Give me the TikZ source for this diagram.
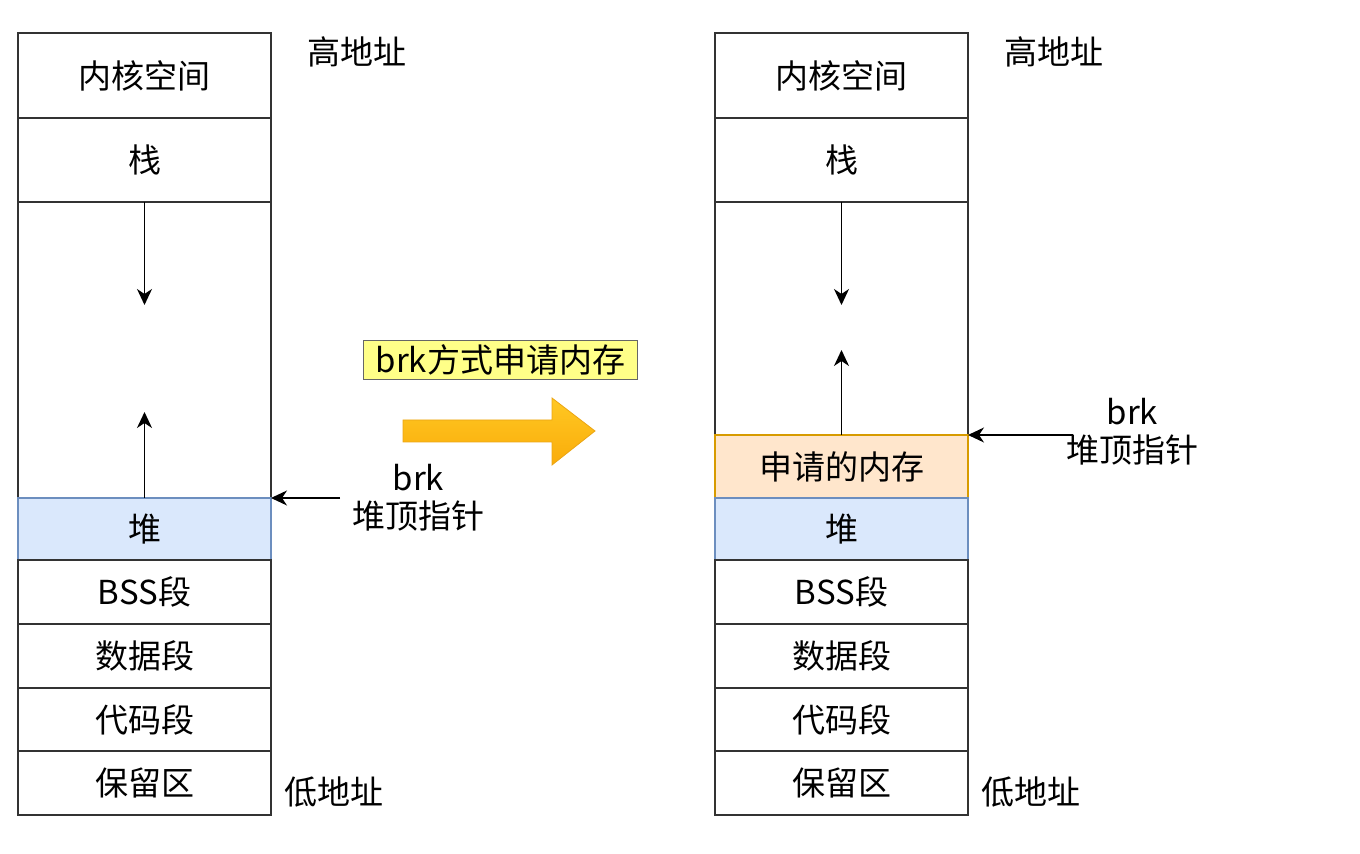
\documentclass[tikz,border=0pt]{standalone}
\usepackage{fontspec}
\setmainfont{Noto Sans CJK SC}
\usetikzlibrary{arrows.meta,positioning}

\definecolor{heapfill}{HTML}{DAE8FC}
\definecolor{heapline}{HTML}{6C8EBF}
\definecolor{allocfill}{HTML}{FFE6CC}
\definecolor{allocline}{HTML}{D79B00}
\definecolor{tagfill}{HTML}{FFFF88}
\definecolor{bigtop}{RGB}{255,200,35}
\definecolor{bigbottom}{RGB}{250,172,10}
\definecolor{bigline}{RGB}{235,165,20}

\begin{document}
\begin{tikzpicture}[x=1pt,y=1pt]
    \tikzset{
        seg/.style      =   { rectangle
                            , draw=black!80
                            , line width=0.75pt
                            , minimum width=126.5pt
                            , inner sep=0pt
                            , outer sep=0pt
                            , text centered
                            , font=\fontsize{16.5pt}{19pt}\selectfont
                            }
        , heap/.style   =   { seg
                            , fill=heapfill
                            , draw=heapline
                            }
        , alloc/.style  =   { seg
                            , fill=allocfill
                            , draw=allocline
                            }
        , note/.style   =   { inner sep=0pt
                            , font=\fontsize{16.5pt}{19pt}\selectfont
                            }
        , tag/.style    =   { rectangle
                            , fill=tagfill
                            , draw=black!60
                            , line width=0.6pt
                            , inner xsep=6pt
                            , inner ysep=2pt
                            , font=\fontsize{16.5pt}{19pt}\selectfont
                            }
        , arrow/.style  =   { line width=0.7pt
                            , -{Stealth[length=8pt,width=7.5pt,inset=2.5pt]}
                            }
        , bigarrow/.style = { top color=bigtop
                            , bottom color=bigbottom
                            , draw=bigline
                            , line width=0.4pt
                            }
    }
    \useasboundingbox (0,0) rectangle (680,-427);

    % before
    \node(kernelL)[seg,minimum height=42.5pt,anchor=north west] at (9,-16.5) {内核空间};
    \node(stackL)[seg,minimum height=42pt,below=0pt of kernelL] {栈};
    \node(gapL)[seg,minimum height=148pt,below=0pt of stackL] {};
    \node(heapL)[heap,minimum height=31pt,below=0pt of gapL] {堆};
    \node(bssL)[seg,minimum height=32pt,below=0pt of heapL] {BSS段};
    \node(dataL)[seg,minimum height=32pt,below=0pt of bssL] {数据段};
    \node(codeL)[seg,minimum height=31.5pt,below=0pt of dataL] {代码段};
    \node(resL)[seg,minimum height=32pt,below=0pt of codeL] {保留区};

    \node(highL)[note,anchor=west] at ([shift={(18pt,-9.5pt)}]kernelL.north east) {高地址};
    \node(lowL)[note,anchor=west] at ([shift={(6.5pt,11.5pt)}]resL.south east) {低地址};
    \node(brkL)[note,align=center,right=40.5pt of heapL.north east] {brk\\堆顶指针};

    \draw[arrow] (gapL.north) -- ++(0,-51.5);
    \draw[arrow] (heapL.north) -- ++(0,43);
    \draw[arrow] ([xshift=-6pt]brkL.west) -- (heapL.north east);

    % brk
    \node(method)[tag] at (250.25,-180) {brk方式申请内存};
    \shadedraw[bigarrow]
        (201.5,-210) -- (276,-210) -- (276,-199) -- (297.5,-215.5)
        -- (276,-232.5) -- (276,-221) -- (201.5,-221) -- cycle;

    % after
    \node(kernelR)[seg,minimum height=42.5pt,anchor=north west] at (357.5,-16.5) {内核空间};
    \node(stackR)[seg,minimum height=42pt,below=0pt of kernelR] {栈};
    \node(gapR)[seg,minimum height=116.5pt,below=0pt of stackR] {};
    \node(allocR)[alloc,minimum height=31.5pt,below=0pt of gapR] {申请的内存};
    \node(heapR)[heap,minimum height=31pt,below=0pt of allocR] {堆};
    \node(bssR)[seg,minimum height=32pt,below=0pt of heapR] {BSS段};
    \node(dataR)[seg,minimum height=32pt,below=0pt of bssR] {数据段};
    \node(codeR)[seg,minimum height=31.5pt,below=0pt of dataR] {代码段};
    \node(resR)[seg,minimum height=32pt,below=0pt of codeR] {保留区};

    \node(highR)[note,anchor=west] at ([shift={(18pt,-9.5pt)}]kernelR.north east) {高地址};
    \node(lowR)[note,anchor=west] at ([shift={(6.5pt,11.5pt)}]resR.south east) {低地址};
    \node(brkR)[note,align=center,right=49pt of allocR.north east,yshift=1.5pt] {brk\\堆顶指针};

    \draw[arrow] (gapR.north) -- ++(0,-51.5);
    \draw[arrow] (allocR.north) -- ++(0,42.5);
    \draw[arrow] ([shift={(3.5pt,-1.5pt)}]brkR.west) -- (allocR.north east);
\end{tikzpicture}
\end{document}
